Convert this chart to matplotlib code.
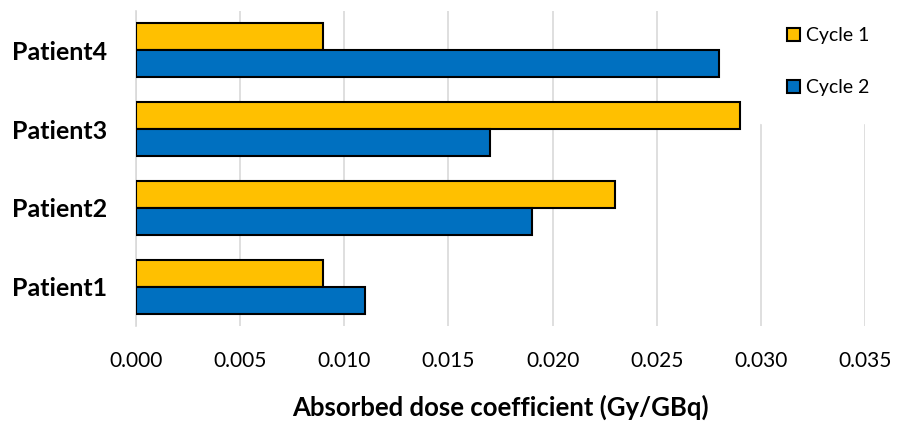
import matplotlib.pyplot as plt
import numpy as np

patients = ['Patient1', 'Patient2', 'Patient3', 'Patient4']
cycle1 = [0.009, 0.023, 0.029, 0.009]
cycle2 = [0.011, 0.019, 0.017, 0.028]
xticks = [0.000, 0.005, 0.010, 0.015, 0.020, 0.025, 0.030, 0.035]

plt.rcParams['font.family'] = ['Lato', 'DejaVu Sans']

fig = plt.figure(figsize=(8.98, 4.32), dpi=100)
ax = fig.add_axes([0.1514, 0.245, 0.812, 0.73])

y = np.arange(len(patients))
h = 0.34
ax.barh(y + h / 2, cycle1, height=h, color='#FFC000', edgecolor='black', linewidth=1.5,
        label='Cycle 1', zorder=3)
ax.barh(y - h / 2, cycle2, height=h, color='#0070C0', edgecolor='black', linewidth=1.5,
        label='Cycle 2', zorder=3)

ax.set_xlim(0, 0.035)
ax.set_ylim(-0.5, 3.5)
ax.set_xticks(xticks)
ax.set_xticklabels([f'{v:.3f}' for v in xticks], fontsize=15)
ax.set_yticks(y)
ax.set_yticklabels(patients, fontsize=18, fontweight='bold')
ax.tick_params(axis='y', length=0, pad=21)
ax.tick_params(axis='x', length=0, pad=18)
ax.grid(axis='x', color='#D9D9D9', linewidth=1.2, zorder=0)
for s in ['top', 'right', 'bottom']:
    ax.spines[s].set_visible(False)
ax.spines['left'].set_color('#D9D9D9')
ax.spines['left'].set_linewidth(1.2)

ax.set_xlabel('Absorbed dose coefficient (Gy/GBq)', fontsize=18.5, fontweight='bold', labelpad=17)

# white legend box hides the top of the right-most gridlines, like the original
leg = ax.legend(loc='upper left', bbox_to_anchor=(0.8463, 1.0), bbox_transform=fig.transFigure,
                frameon=True, fontsize=14, labelspacing=1.8, handlelength=0.67, handleheight=0.67,
                handletextpad=0.3, borderpad=1.4, borderaxespad=0)
leg.get_frame().set_edgecolor('white')
leg.get_frame().set_facecolor('white')
leg.get_frame().set_alpha(1)
leg.get_frame().set_boxstyle('square', pad=0)
leg.set_zorder(5)

fig.savefig('out.png', dpi=100)
